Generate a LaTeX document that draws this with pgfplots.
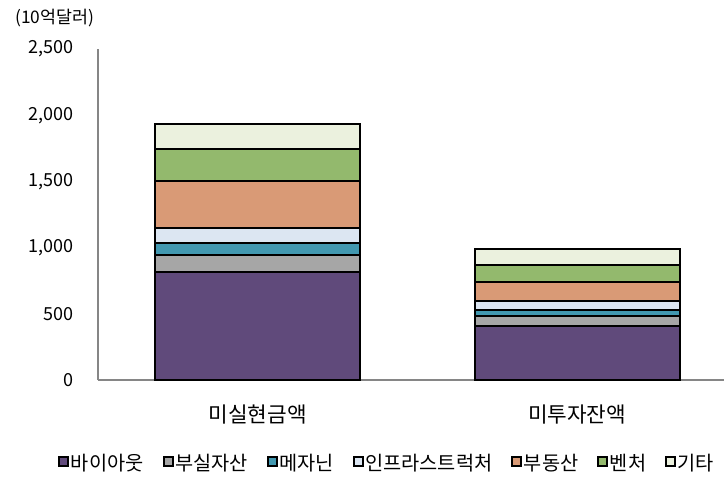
\documentclass[border=0pt]{standalone}
\usepackage{pgfplots}
\pgfplotsset{compat=1.18}
\usepackage{fontspec}
\setmainfont{Noto Sans CJK KR}
\definecolor{cBuy}{HTML}{604A7B}
\definecolor{cDis}{HTML}{A6A6A6}
\definecolor{cMez}{HTML}{4298B0}
\definecolor{cInf}{HTML}{DCE6F2}
\definecolor{cRE}{HTML}{D99A76}
\definecolor{cVen}{HTML}{93B96D}
\definecolor{cEtc}{HTML}{EBF1DE}
\definecolor{axgray}{HTML}{868686}
\begin{document}
\begin{tikzpicture}
\useasboundingbox (-73.5pt,-74.25pt) rectangle (469.5pt,285pt);
\begin{axis}[
  at={(0,0)}, anchor=south west,
  scale only axis, width=469.5pt, height=248.25pt,
  ybar stacked, bar width=153.75pt,
  xmin=-0.5, xmax=1.46,
  ymin=0, ymax=2500,
  ytick={0,500,1000,1500,2000,2500},
  xtick={0,1}, xticklabels={미실현금액, 미투자잔액},
  major tick length=0pt,
  axis x line*=bottom, axis y line*=left,
  x axis line style={-, draw=axgray, line width=1.5pt},
  y axis line style={-, draw=axgray, line width=1.5pt},
  /pgf/number format/assume math mode=true,
  /pgf/number format/1000 sep={,},
  yticklabel style={font=\fontsize{13.5}{15}\selectfont, anchor=east, inner sep=0pt, xshift=-18pt},
  xticklabel style={font=\fontsize{16}{19}\selectfont, anchor=center, inner sep=0pt, yshift=-26pt},
  every axis plot/.append style={draw=black, line width=1.5pt},
  legend columns=7,
  legend style={draw=none, fill=none, at={(0.4617,-0.2508)}, anchor=center,
    font=\fontsize{14.8}{17}\selectfont, inner sep=0pt,
    nodes={inner xsep=1.2pt, inner ysep=0pt},
    /tikz/every even column/.append style={column sep=13pt}},
  legend image code/.code={\draw[#1, line width=1.5pt, draw=black] (0pt,-2.6pt) rectangle (6.75pt,4.15pt);},
  clip=false,
]
\addplot[fill=cBuy] coordinates {(0,818) (1,408)};
\addplot[fill=cDis] coordinates {(0,128) (1,73)};
\addplot[fill=cMez] coordinates {(0,91) (1,48)};
\addplot[fill=cInf] coordinates {(0,109) (1,70)};
\addplot[fill=cRE] coordinates {(0,357) (1,144)};
\addplot[fill=cVen] coordinates {(0,239) (1,123)};
\addplot[fill=cEtc] coordinates {(0,191) (1,121)};
\legend{바이아웃, 부실자산, 메자닌, 인프라스트럭처, 부동산, 벤처, 기타}
\node[font=\fontsize{13}{15}\selectfont, anchor=west, inner sep=0pt] at (rel axis cs:-0.1326,1.0937) {(10억달러)};
\end{axis}
\end{tikzpicture}
\end{document}
